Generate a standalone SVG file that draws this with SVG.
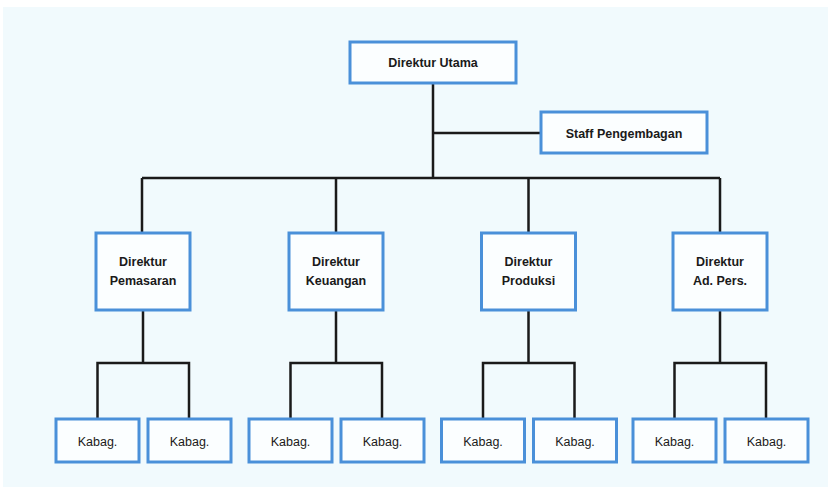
<svg xmlns="http://www.w3.org/2000/svg" width="828" height="491" viewBox="0 0 828 491">
<style>
.box{fill:#fbfeff;stroke:#4a90d9;stroke-width:3}
.ln{fill:none;stroke:#1a1a1a;stroke-width:2.5}
.b{font-family:"Liberation Sans",Arial,sans-serif;font-weight:bold;font-size:12.5px;fill:#1a1a1a;text-anchor:middle}
.k{font-family:"Liberation Sans",Arial,sans-serif;font-size:12.5px;fill:#1a1a1a;text-anchor:middle}
</style>
<rect x="0" y="0" width="828" height="491" fill="#ffffff"/>
<rect x="3" y="7" width="825" height="480" fill="#f1fafd"/>
<g id="connectors">
<path class="ln" d="M433 83V178M433 133H540M142 178H720M142 178V233M336 178V233M528.5 178V233M720 178V233"/>
<path class="ln" d="M143 310V363M97.5 419V363H189V419"/>
<path class="ln" d="M336 310V363M290.5 419V363H382V419"/>
<path class="ln" d="M528.5 310V363M483 419V363H574.5V419"/>
<path class="ln" d="M720 310V363M674.5 419V363H766V419"/>
</g>
<g id="direktur-utama"><rect class="box" x="350" y="42" width="166" height="41"/><text class="b" x="433" y="67">Direktur Utama</text></g>
<g id="staff-pengembangan"><rect class="box" x="541" y="112" width="166" height="41"/><text class="b" x="624" y="138">Staff Pengembagan</text></g>
<g id="dir-pemasaran"><rect class="box" x="96" y="233" width="94" height="77"/><text class="b" x="143" y="266">Direktur</text><text class="b" x="143" y="285">Pemasaran</text></g>
<g id="dir-keuangan"><rect class="box" x="289" y="233" width="94" height="77"/><text class="b" x="336" y="266">Direktur</text><text class="b" x="336" y="285">Keuangan</text></g>
<g id="dir-produksi"><rect class="box" x="481.5" y="233" width="94" height="77"/><text class="b" x="528.5" y="266">Direktur</text><text class="b" x="528.5" y="285">Produksi</text></g>
<g id="dir-adpers"><rect class="box" x="673" y="233" width="94" height="77"/><text class="b" x="720" y="266">Direktur</text><text class="b" x="720" y="285">Ad. Pers.</text></g>
<g id="kabag-1"><rect class="box" x="56" y="419" width="83" height="43"/><text class="k" x="97.5" y="446">Kabag.</text></g>
<g id="kabag-2"><rect class="box" x="148" y="419" width="83" height="43"/><text class="k" x="189.5" y="446">Kabag.</text></g>
<g id="kabag-3"><rect class="box" x="249" y="419" width="83" height="43"/><text class="k" x="290.5" y="446">Kabag.</text></g>
<g id="kabag-4"><rect class="box" x="341" y="419" width="83" height="43"/><text class="k" x="382.5" y="446">Kabag.</text></g>
<g id="kabag-5"><rect class="box" x="441.5" y="419" width="83" height="43"/><text class="k" x="483" y="446">Kabag.</text></g>
<g id="kabag-6"><rect class="box" x="533.5" y="419" width="83" height="43"/><text class="k" x="575" y="446">Kabag.</text></g>
<g id="kabag-7"><rect class="box" x="633" y="419" width="83" height="43"/><text class="k" x="674.5" y="446">Kabag.</text></g>
<g id="kabag-8"><rect class="box" x="725" y="419" width="83" height="43"/><text class="k" x="766.5" y="446">Kabag.</text></g>
</svg>
